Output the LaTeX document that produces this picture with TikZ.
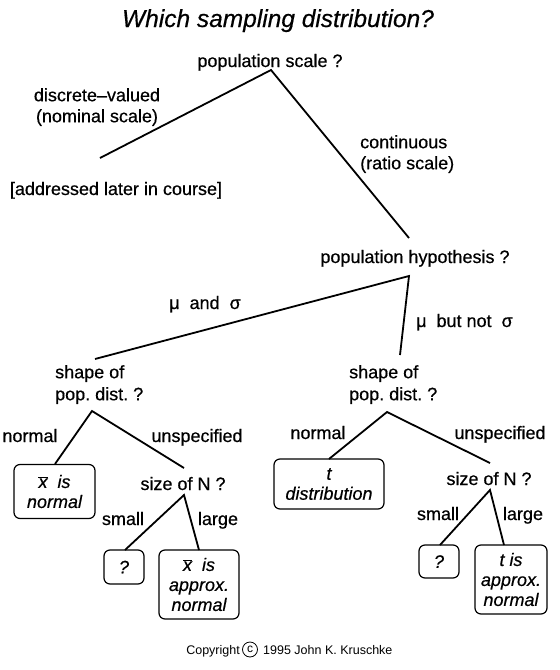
\documentclass[tikz,border=0pt]{standalone}
\usepackage{fontspec}
\setmainfont{Liberation Sans}[FakeBold=0.5,ItalicFeatures={FakeBold=0.5}]
\newfontfamily\smallfont{Liberation Sans}
\frenchspacing
\begin{document}
\begin{tikzpicture}[x=1pt,y=-1pt,
  txt/.style={inner sep=0pt, font=\fontsize{18}{21}\selectfont},
  restxt/.style={draw, line width=1.2pt, rounded corners=6pt, inner sep=0pt, align=center, font=\itshape\fontsize{18}{20}\selectfont},
  conn/.style={line width=1.8pt},
  small/.style={inner sep=0pt, font=\smallfont\fontsize{12.5}{14}\selectfont}]
\useasboundingbox[fill=white] (0,0) rectangle (560,670);

% text nodes
\node[inner sep=0pt, font=\itshape\fontsize{24.5}{28}\selectfont, anchor=base] (title) at (278,27) {Which sampling distribution?};
\node[txt, anchor=base] (ps) at (270,67) {population scale ?};
\node[txt, anchor=north, align=center] (disc) at (97,88) {discrete–valued\\(nominal scale)};
\node[txt, anchor=base] (later) at (116,195) {[addressed later in course]};
\node[txt, anchor=north west, align=left] (cont) at (360,135) {continuous\\(ratio scale)};
\node[txt, anchor=base] (ph) at (415,263) {population hypothesis ?};
\node[txt, anchor=base] (ms) at (205,309) {μ\ \ and\ \ σ};
\node[txt, anchor=base west] (mns) at (416,327) {μ\ \ but not\ \ σ};
\node[txt, anchor=north west, align=left] (shL) at (55,365) {shape of\\[1pt]pop. dist. ?};
\node[txt, anchor=north west, align=left] (shR) at (349,365) {shape of\\[1pt]pop. dist. ?};
\node[txt, anchor=base] (nL) at (30,442) {normal};
\node[txt, anchor=base] (uL) at (197,442) {unspecified};
\node[txt, anchor=base] (nR) at (318,439) {normal};
\node[txt, anchor=base] (uR) at (500,439) {unspecified};
\node[txt, anchor=base] (szL) at (183,490) {size of N ?};
\node[txt, anchor=base] (smL) at (123,525) {small};
\node[txt, anchor=base] (lgL) at (218,525) {large};
\node[txt, anchor=base] (szR) at (489,485) {size of N ?};
\node[txt, anchor=base] (smR) at (438,520) {small};
\node[txt, anchor=base] (lgR) at (523,520) {large};

% result boxes
\node[restxt, minimum width=81pt, minimum height=54pt] (bx1) at (54.5,491.5) {$\overline{\mbox{x}}$\ \ is\\normal};
\node[restxt, minimum width=40pt, minimum height=34pt] (qL) at (124,567) {?};
\node[restxt, minimum width=80pt, minimum height=69pt] (bx2) at (199,584.5) {$\overline{\mbox{x}}$\ \ is\\approx.\\normal};
\node[restxt, minimum width=110pt, minimum height=50pt] (bx3) at (329,484) {t\\distribution};
\node[restxt, minimum width=40pt, minimum height=33pt] (qR) at (439,561.5) {?};
\node[restxt, minimum width=72pt, minimum height=69pt] (bx4) at (511,579.5) {t is\\approx.\\normal};

% copyright
\node[small, anchor=base east] (copy) at (240,654) {Copyright};
\node[draw, circle, line width=0.8pt, minimum size=15pt, inner sep=0pt, font=\smallfont\fontsize{12}{12}\selectfont] (cc) at (250,649.5) {c};
\node[small, anchor=base west] (auth) at (263,654) {1995 John K. Kruschke};

% connector end points
\coordinate (psA) at (271,70);
\coordinate (discE) at (100,158);
\coordinate (contE) at (409,238);
\coordinate (phA) at (409,276);
\coordinate (msE) at (95,359);
\coordinate (mnsE) at (400,355);
\coordinate (shLA) at (92,411);
\coordinate (nLE) at (55,464);
\coordinate (uLE) at (184,468);
\coordinate (shRA) at (387,412);
\coordinate (nRE) at (329,459);
\coordinate (uRE) at (490,463);
\coordinate (szLA) at (184,495);
\coordinate (smLE) at (125,550);
\coordinate (lgLE) at (199,550);
\coordinate (szRA) at (490,490);
\coordinate (smRE) at (440,545);
\coordinate (lgRE) at (504,545);

\draw[conn] (discE) -- (psA) -- (contE);
\draw[conn] (msE) -- (phA) -- (mnsE);
\draw[conn] (nLE) -- (shLA) -- (uLE);
\draw[conn] (nRE) -- (shRA) -- (uRE);
\draw[conn] (smLE) -- (szLA) -- (lgLE);
\draw[conn] (smRE) -- (szRA) -- (lgRE);
\end{tikzpicture}
\end{document}
